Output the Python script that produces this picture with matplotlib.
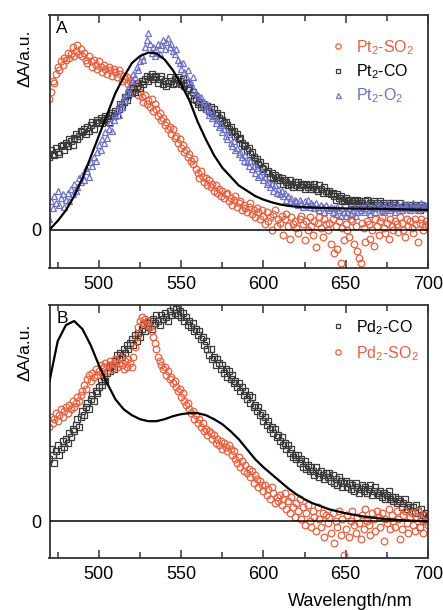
import numpy as np
import matplotlib
matplotlib.use("Agg")
import matplotlib.pyplot as plt
from matplotlib.ticker import MultipleLocator

plt.rcParams['font.family'] = ['Liberation Sans', 'DejaVu Sans']
plt.rcParams['mathtext.fontset'] = 'custom'
plt.rcParams['mathtext.rm'] = 'Liberation Sans'
plt.rcParams['mathtext.it'] = 'Liberation Sans:italic'

# ---------------- data ----------------
wl = np.arange(470, 701, 1)

pt_so2 = [
    0.74, 0.78, 0.84, 0.83, 0.88, 0.92, 0.90, 0.95, 0.93, 0.97,
    0.96, 1.00, 0.97, 0.99, 1.03, 0.98, 1.01, 1.04, 0.99, 1.02,
    0.98, 1.00, 0.96, 0.94, 0.98, 0.95, 0.92, 0.96, 0.93, 0.91,
    0.95, 0.92, 0.89, 0.93, 0.91, 0.88, 0.92, 0.90, 0.87, 0.91,
    0.89, 0.86, 0.90, 0.88, 0.84, 0.87, 0.85, 0.86, 0.82, 0.84,
    0.83, 0.79, 0.82, 0.80, 0.76, 0.78, 0.75, 0.72, 0.76, 0.71,
    0.73, 0.69, 0.74, 0.67, 0.71, 0.68, 0.64, 0.66, 0.62, 0.63,
    0.59, 0.61, 0.57, 0.58, 0.54, 0.57, 0.52, 0.53, 0.49, 0.51,
    0.46, 0.48, 0.44, 0.45, 0.41, 0.43, 0.39, 0.37, 0.40, 0.34,
    0.32, 0.29, 0.33, 0.30, 0.27, 0.29, 0.25, 0.28, 0.24, 0.26,
    0.22, 0.25, 0.21, 0.23, 0.19, 0.22, 0.18, 0.20, 0.21, 0.16,
    0.18, 0.14, 0.17, 0.19, 0.13, 0.15, 0.16, 0.11, 0.14, 0.12,
    0.10, 0.13, 0.15, 0.09, 0.11, 0.07, 0.12, 0.10, 0.06, 0.11,
    0.08, 0.03, 0.10, 0.05, 0.07, 0.00, 0.09, 0.11, 0.02, 0.06,
    0.04, 0.08, -0.03, 0.06, 0.09, 0.02, -0.05, 0.07, 0.03, 0.05,
    0.01, -0.02, 0.06, 0.08, 0.03, -0.06, 0.05, 0.00, 0.07, 0.02,
    -0.03, 0.05, -0.10, 0.04, 0.07, 0.01, -0.04, 0.06, 0.03, 0.00,
    0.04, -0.08, 0.06, -0.13, 0.02, -0.11, 0.05, -0.19, 0.01, -0.06,
    0.03, 0.00, -0.04, 0.06, 0.05, -0.08, 0.02, -0.12, -0.16, -0.19,
    0.04, 0.01, -0.07, 0.05, 0.03, -0.05, 0.00, -0.09, 0.06, 0.02,
    -0.03, 0.05, 0.07, 0.01, -0.02, 0.04, -0.05, 0.06, 0.02, 0.00,
    0.05, 0.03, -0.01, 0.07, 0.04, 0.00, -0.04, 0.06, 0.02, 0.05,
    0.01, -0.02, 0.06, 0.03, -0.07, 0.04, 0.06, 0.00, 0.02, 0.05,
    0.03]

pt_co = [
    0.41, 0.45, 0.43, 0.42, 0.46, 0.44, 0.43, 0.47, 0.48, 0.45,
    0.49, 0.47, 0.51, 0.50, 0.48, 0.52, 0.54, 0.51, 0.53, 0.56,
    0.55, 0.57, 0.54, 0.58, 0.56, 0.59, 0.61, 0.57, 0.60, 0.62,
    0.61, 0.63, 0.60, 0.62, 0.64, 0.63, 0.61, 0.65, 0.66, 0.64,
    0.67, 0.65, 0.68, 0.71, 0.69, 0.72, 0.75, 0.73, 0.76, 0.78,
    0.77, 0.80, 0.78, 0.81, 0.83, 0.80, 0.84, 0.82, 0.85, 0.87,
    0.84, 0.86, 0.88, 0.85, 0.87, 0.86, 0.83, 0.85, 0.87, 0.82,
    0.84, 0.81, 0.83, 0.86, 0.84, 0.82, 0.85, 0.83, 0.86, 0.84,
    0.82, 0.85, 0.81, 0.83, 0.79, 0.80, 0.76, 0.78, 0.74, 0.73,
    0.71, 0.72, 0.69, 0.71, 0.70, 0.68, 0.70, 0.67, 0.69, 0.66,
    0.68, 0.65, 0.66, 0.63, 0.65, 0.62, 0.60, 0.61, 0.59, 0.57,
    0.58, 0.55, 0.56, 0.53, 0.54, 0.51, 0.52, 0.49, 0.47, 0.48,
    0.45, 0.46, 0.43, 0.44, 0.41, 0.39, 0.40, 0.37, 0.38, 0.35,
    0.34, 0.36, 0.32, 0.33, 0.30, 0.32, 0.29, 0.31, 0.28, 0.30,
    0.28, 0.29, 0.26, 0.28, 0.27, 0.25, 0.28, 0.26, 0.24, 0.27,
    0.25, 0.27, 0.24, 0.26, 0.25, 0.23, 0.26, 0.24, 0.25, 0.23,
    0.24, 0.26, 0.23, 0.22, 0.25, 0.23, 0.21, 0.24, 0.22, 0.21,
    0.22, 0.20, 0.21, 0.19, 0.17, 0.20, 0.18, 0.19, 0.16, 0.17,
    0.18, 0.16, 0.17, 0.15, 0.17, 0.16, 0.14, 0.17, 0.15, 0.16,
    0.15, 0.14, 0.16, 0.17, 0.14, 0.15, 0.13, 0.16, 0.14, 0.15,
    0.14, 0.16, 0.13, 0.15, 0.14, 0.12, 0.15, 0.14, 0.13, 0.15,
    0.14, 0.12, 0.13, 0.15, 0.13, 0.12, 0.14, 0.13, 0.12, 0.14,
    0.12, 0.13, 0.14, 0.12, 0.13, 0.11, 0.14, 0.12, 0.13, 0.12,
    0.13]

pt_o2 = [
    0.06, 0.16, 0.12, 0.19, 0.15, 0.22, 0.14, 0.18, 0.20, 0.13,
    0.17, 0.21, 0.16, 0.23, 0.20, 0.26, 0.22, 0.24, 0.29, 0.27,
    0.31, 0.28, 0.35, 0.33, 0.30, 0.38, 0.36, 0.41, 0.39, 0.44,
    0.48, 0.45, 0.51, 0.49, 0.55, 0.52, 0.57, 0.60, 0.56, 0.62,
    0.64, 0.68, 0.65, 0.71, 0.69, 0.75, 0.73, 0.78, 0.80, 0.77,
    0.84, 0.88, 0.86, 0.92, 0.90, 0.95, 0.98, 0.96, 1.03, 1.07,
    1.11, 1.05, 1.00, 1.03, 0.98, 1.02, 1.05, 0.99, 1.04, 1.07,
    1.02, 1.06, 1.08, 1.03, 1.05, 1.01, 0.99, 1.02, 0.96, 0.94,
    0.91, 0.94, 0.89, 0.87, 0.90, 0.84, 0.83, 0.86, 0.79, 0.77,
    0.76, 0.73, 0.75, 0.70, 0.72, 0.68, 0.71, 0.65, 0.68, 0.63,
    0.64, 0.60, 0.62, 0.58, 0.59, 0.55, 0.57, 0.53, 0.51, 0.54,
    0.49, 0.47, 0.50, 0.45, 0.46, 0.43, 0.44, 0.41, 0.39, 0.42,
    0.38, 0.36, 0.39, 0.34, 0.36, 0.32, 0.35, 0.30, 0.31, 0.33,
    0.28, 0.30, 0.26, 0.27, 0.24, 0.26, 0.22, 0.25, 0.21, 0.23,
    0.20, 0.22, 0.19, 0.21, 0.17, 0.19, 0.16, 0.18, 0.15, 0.17,
    0.16, 0.14, 0.17, 0.15, 0.13, 0.16, 0.14, 0.17, 0.13, 0.15,
    0.14, 0.12, 0.15, 0.13, 0.11, 0.14, 0.13, 0.10, 0.14, 0.12,
    0.11, 0.13, 0.10, 0.12, 0.09, 0.13, 0.11, 0.08, 0.12, 0.10,
    0.08, 0.10, 0.12, 0.09, 0.11, 0.13, 0.08, 0.10, 0.12, 0.11,
    0.13, 0.10, 0.12, 0.14, 0.11, 0.09, 0.13, 0.12, 0.10, 0.14,
    0.12, 0.14, 0.11, 0.10, 0.13, 0.15, 0.12, 0.11, 0.14, 0.12,
    0.10, 0.13, 0.14, 0.12, 0.11, 0.15, 0.13, 0.12, 0.14, 0.11,
    0.13, 0.15, 0.12, 0.14, 0.11, 0.13, 0.15, 0.12, 0.14, 0.13,
    0.14]

pd_co = [
    0.31, 0.36, 0.33, 0.29, 0.35, 0.38, 0.33, 0.36, 0.40, 0.37,
    0.41, 0.39, 0.44, 0.42, 0.46, 0.45, 0.48, 0.51, 0.47, 0.52,
    0.55, 0.53, 0.57, 0.59, 0.56, 0.61, 0.63, 0.60, 0.65, 0.64,
    0.67, 0.70, 0.68, 0.72, 0.70, 0.74, 0.77, 0.75, 0.78, 0.76,
    0.80, 0.83, 0.81, 0.84, 0.82, 0.86, 0.84, 0.88, 0.86, 0.89,
    0.91, 0.88, 0.93, 0.90, 0.94, 0.92, 0.96, 0.98, 0.95, 0.99,
    0.97, 1.00, 0.96, 1.01, 0.99, 1.03, 1.00, 0.98, 1.03, 1.01,
    1.04, 1.02, 1.00, 1.05, 1.03, 1.07, 1.04, 1.06, 1.03, 1.05,
    1.02, 1.04, 1.00, 1.02, 0.98, 1.00, 0.97, 0.99, 0.95, 0.96,
    0.93, 0.95, 0.91, 0.92, 0.88, 0.90, 0.86, 0.83, 0.86, 0.81,
    0.82, 0.78, 0.81, 0.79, 0.76, 0.78, 0.74, 0.76, 0.72, 0.75,
    0.71, 0.73, 0.69, 0.70, 0.67, 0.69, 0.65, 0.67, 0.63, 0.65,
    0.61, 0.63, 0.59, 0.62, 0.57, 0.58, 0.55, 0.57, 0.53, 0.54,
    0.50, 0.52, 0.48, 0.50, 0.46, 0.47, 0.44, 0.46, 0.42, 0.43,
    0.40, 0.42, 0.38, 0.39, 0.36, 0.38, 0.34, 0.36, 0.32, 0.33,
    0.31, 0.33, 0.29, 0.31, 0.27, 0.30, 0.26, 0.28, 0.25, 0.27,
    0.25, 0.23, 0.27, 0.24, 0.22, 0.25, 0.23, 0.21, 0.24, 0.22,
    0.24, 0.20, 0.23, 0.19, 0.21, 0.18, 0.22, 0.20, 0.17, 0.19,
    0.20, 0.17, 0.19, 0.16, 0.18, 0.15, 0.19, 0.17, 0.14, 0.16,
    0.18, 0.15, 0.17, 0.14, 0.16, 0.18, 0.13, 0.15, 0.17, 0.14,
    0.13, 0.15, 0.12, 0.14, 0.11, 0.13, 0.15, 0.11, 0.12, 0.10,
    0.12, 0.09, 0.11, 0.10, 0.07, 0.09, 0.11, 0.06, 0.08, 0.07,
    0.05, 0.07, 0.04, 0.08, 0.05, -0.03, 0.06, 0.03, 0.01, 0.04,
    0.02]

pd_so2 = [
    0.47, 0.52, 0.49, 0.51, 0.54, 0.50, 0.53, 0.56, 0.52, 0.55,
    0.57, 0.54, 0.58, 0.56, 0.60, 0.57, 0.59, 0.62, 0.60, 0.63,
    0.65, 0.68, 0.66, 0.71, 0.73, 0.70, 0.74, 0.72, 0.76, 0.73,
    0.75, 0.78, 0.74, 0.77, 0.79, 0.75, 0.78, 0.80, 0.76, 0.79,
    0.81, 0.77, 0.79, 0.82, 0.78, 0.76, 0.80, 0.77, 0.81, 0.79,
    0.77, 0.82, 0.87, 0.92, 0.97, 1.00, 1.02, 0.99, 1.01, 0.98,
    1.00, 0.97, 0.95, 0.92, 0.89, 0.86, 0.82, 0.80, 0.78, 0.76,
    0.77, 0.73, 0.75, 0.71, 0.72, 0.69, 0.70, 0.67, 0.65, 0.66,
    0.62, 0.64, 0.60, 0.58, 0.59, 0.56, 0.54, 0.55, 0.51, 0.53,
    0.49, 0.51, 0.47, 0.49, 0.45, 0.46, 0.43, 0.45, 0.44, 0.41,
    0.43, 0.39, 0.41, 0.38, 0.40, 0.36, 0.39, 0.37, 0.35, 0.38,
    0.36, 0.33, 0.35, 0.31, 0.29, 0.32, 0.27, 0.30, 0.25, 0.28,
    0.24, 0.26, 0.22, 0.25, 0.19, 0.23, 0.21, 0.17, 0.20, 0.18,
    0.15, 0.18, 0.13, 0.16, 0.11, 0.17, 0.14, 0.09, 0.12, 0.10,
    0.13, 0.08, 0.11, 0.14, 0.06, 0.10, 0.04, 0.12, 0.07, 0.02,
    0.09, 0.05, 0.11, 0.01, 0.07, -0.02, 0.04, 0.08, 0.00, -0.03,
    0.05, 0.02, -0.05, 0.07, 0.01, -0.03, 0.04, -0.08, 0.03, -0.01,
    0.02, -0.06, 0.04, -0.11, 0.00, -0.03, 0.05, -0.07, 0.01, -0.17,
    -0.04, 0.03, -0.08, 0.00, 0.05, -0.02, -0.06, 0.02, -0.01, -0.09,
    0.03, -0.04, 0.06, 0.00, -0.02, -0.07, 0.04, 0.01, -0.05, 0.05,
    0.02, -0.03, 0.04, -0.10, 0.01, -0.01, 0.06, -0.04, 0.03, 0.00,
    -0.03, 0.05, 0.01, -0.09, -0.04, 0.03, 0.05, -0.01, -0.06, 0.02,
    0.04, -0.02, -0.05, 0.02, 0.05, -0.03, 0.01, -0.06, 0.03, 0.00,
    -0.02]

# smooth calculated spectra (black lines)
fit_wl_a = [470, 475, 480, 485, 490, 495, 500, 505, 510, 515, 520, 525,
            530, 535, 540, 545, 550, 555, 560, 565, 570, 575, 580, 585,
            590, 595, 600, 605, 610, 615, 620, 630, 640, 650, 660, 670,
            680, 690, 700]
fit_a = [0.0, 0.05, 0.11, 0.19, 0.29, 0.41, 0.53, 0.65, 0.77, 0.86, 0.94,
         0.98, 1.0, 0.995, 0.96, 0.90, 0.82, 0.73, 0.61, 0.51, 0.42, 0.35,
         0.30, 0.25, 0.22, 0.19, 0.17, 0.155, 0.143, 0.135, 0.13, 0.125,
         0.122, 0.12, 0.119, 0.118, 0.116, 0.114, 0.112]

fit_wl_b = [470, 475, 480, 485, 490, 495, 500, 505, 510, 515, 520, 525,
            530, 535, 540, 545, 550, 555, 560, 565, 570, 575, 580, 585,
            590, 595, 600, 605, 610, 615, 620, 625, 630, 640, 650, 660,
            670, 680, 690, 700]
fit_b = [0.70, 0.90, 0.98, 1.0, 0.96, 0.88, 0.78, 0.69, 0.61, 0.56, 0.53,
         0.51, 0.50, 0.50, 0.51, 0.525, 0.535, 0.54, 0.54, 0.53, 0.51,
         0.485, 0.45, 0.41, 0.36, 0.31, 0.27, 0.235, 0.20, 0.165, 0.135,
         0.11, 0.09, 0.06, 0.04, 0.025, 0.015, 0.008, 0.003, 0.0]

labels_a = ["Pt$_2$-SO$_2$", "Pt$_2$-CO", "Pt$_2$-O$_2$"]
labels_b = ["Pd$_2$-CO", "Pd$_2$-SO$_2$"]

RED = "#e8603e"
BLK = "#3a3a3a"
BLUE = "#6c70c8"

# ---------------- figure ----------------
W, H = 443, 610
fig = plt.figure(figsize=(W / 100, H / 100), dpi=100)

def frac(l, t, r, b):
    return [l / W, 1 - b / H, (r - l) / W, (b - t) / H]

ax1 = fig.add_axes(frac(49.5, 15, 428, 268))
ax2 = fig.add_axes(frac(49.5, 305, 428, 558))

mk = dict(linestyle='none', mfc='none', mew=0.9)

h_so2, = ax1.plot(wl, pt_so2, marker='o', ms=4.8, mec=RED, **mk)
h_co, = ax1.plot(wl, pt_co, marker='s', ms=4.3, mec=BLK, **mk)
h_o2, = ax1.plot(wl, pt_o2, marker='^', ms=4.5, mec=BLUE, **mk)
ax1.plot(fit_wl_a, fit_a, color='black', lw=1.6, zorder=5)

h_pco, = ax2.plot(wl, pd_co, marker='s', ms=4.3, mec=BLK, **mk)
h_pso2, = ax2.plot(wl, pd_so2, marker='o', ms=4.8, mec=RED, **mk)
ax2.plot(fit_wl_b, fit_b, color='black', lw=1.6, zorder=5)

for ax, ylim in ((ax1, (-0.216, 1.212)), (ax2, (-0.183, 1.08))):
    ax.set_xlim(470, 700)
    ax.set_ylim(*ylim)
    ax.axhline(0, color='black', lw=1.1, zorder=4)
    ax.xaxis.set_major_locator(MultipleLocator(50))
    ax.xaxis.set_minor_locator(MultipleLocator(25))
    ax.tick_params(axis='x', which='both', direction='in', top=True,
                   labelsize=13, pad=6, color='#333333', width=1.1)
    ax.tick_params(axis='x', which='major', length=6)
    ax.tick_params(axis='x', which='minor', length=4)
    ax.set_yticks([0])
    ax.set_yticklabels(["0"])
    ax.tick_params(axis='y', length=0, labelsize=13, pad=6)
    for s in ax.spines.values():
        s.set_linewidth(1.3)
        s.set_color('#333333')

# y labels near top of each axis
fig.text(25 / W, 1 - 58 / H, "ΔA/a.u.", rotation=90, ha='center',
         va='center', fontsize=12.5)
fig.text(25 / W, 1 - 352 / H, "ΔA/a.u.", rotation=90, ha='center',
         va='center', fontsize=12.5)

ax1.text(0.018, 0.975, "A", transform=ax1.transAxes, ha='left', va='top',
         fontsize=12.5)
ax2.text(0.018, 0.975, "B", transform=ax2.transAxes, ha='left', va='top',
         fontsize=12.5)

fig.text(413 / W, 1 - 602 / H, "Wavelength/nm", ha='right', va='center',
         fontsize=13)

leg1 = ax1.legend([h_so2, h_co, h_o2], labels_a, loc='upper left',
                  bbox_to_anchor=((330 - 49.5) / 378.5, (268 - 38) / 253),
                  frameon=False, fontsize=11.5, handlelength=1.0,
                  handletextpad=0.6, labelspacing=0.35, borderpad=0,
                  borderaxespad=0, markerscale=0.8)
for t, c in zip(leg1.get_texts(), [RED, 'black', BLUE]):
    t.set_color(c)

leg2 = ax2.legend([h_pco, h_pso2], labels_b, loc='upper left',
                  bbox_to_anchor=((330 - 49.5) / 378.5, (558 - 318) / 253),
                  frameon=False, fontsize=11.5, handlelength=1.0,
                  handletextpad=0.6, labelspacing=0.45, borderpad=0,
                  borderaxespad=0, markerscale=0.8)
for t, c in zip(leg2.get_texts(), ['black', RED]):
    t.set_color(c)

fig.savefig("out.png", dpi=100)
